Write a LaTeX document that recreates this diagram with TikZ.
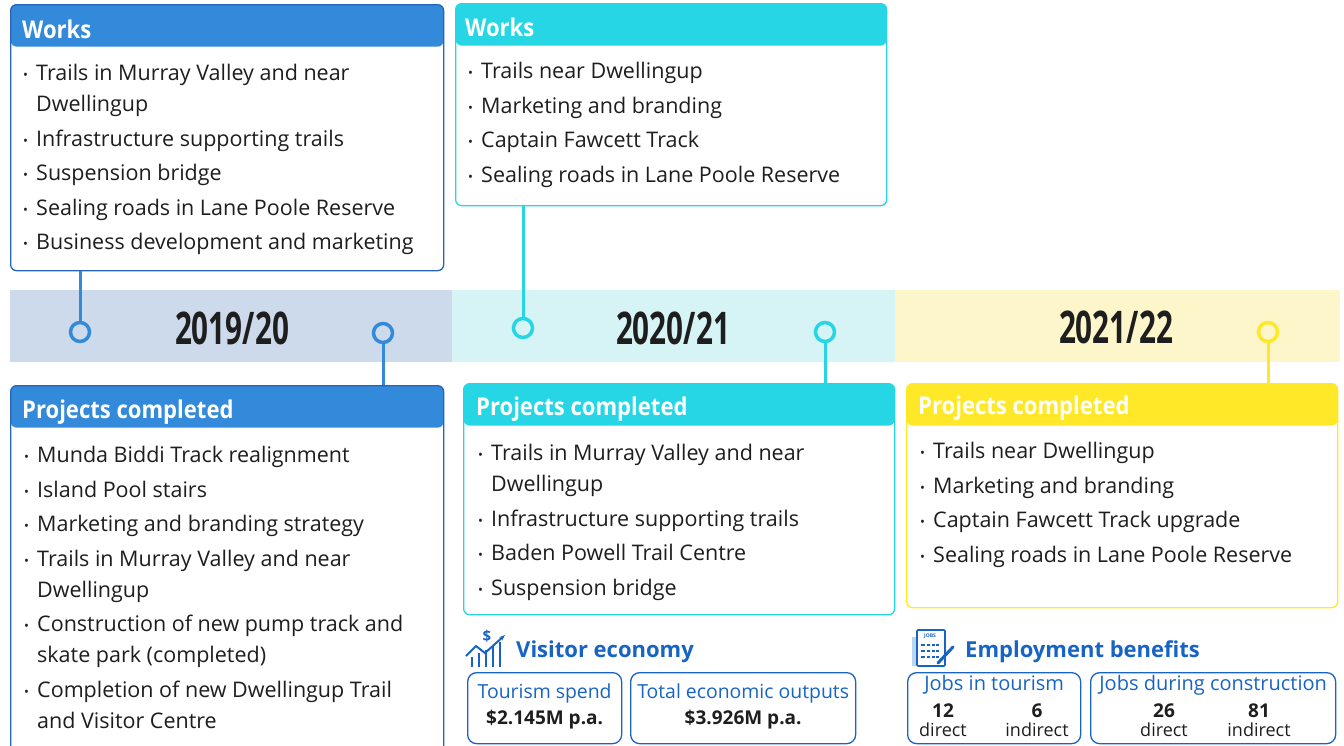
\documentclass[tikz,border=0pt]{standalone}
\usepackage{fontspec}
\setmainfont{Open Sans}
\newfontfamily\condfont[FakeStretch=0.9]{Open Sans}
\newfontfamily\yearfont[FakeStretch=0.66]{Open Sans}
\usetikzlibrary{arrows.meta, positioning}

\definecolor{wblue}{RGB}{52,138,218}
\definecolor{wblueD}{RGB}{38,100,188}
\definecolor{wcyan}{RGB}{38,214,228}
\definecolor{wyel}{RGB}{255,232,40}
\definecolor{bandB}{RGB}{204,218,236}
\definecolor{bandC}{RGB}{214,243,245}
\definecolor{bandY}{RGB}{252,246,202}
\definecolor{vblue}{RGB}{24,100,196}
\definecolor{txt}{RGB}{30,30,30}

\newcommand{\bul}{\makebox[13pt][l]{\raisebox{1pt}{\fontsize{13}{13}\selectfont •}}}
\newcommand{\ind}{\hspace*{13pt}}

\tikzset{
  panel/.style 2 args={draw=#1, line width=1.3pt, rounded corners=6pt, fill=white,
    inner sep=0pt, anchor=north west,
    path picture={\fill[#2] (path picture bounding box.north west)
      rectangle ([yshift=-42pt]path picture bounding box.north east);}},
  hdr/.style={anchor=west, inner sep=0pt, text=#1,
    font=\condfont\bfseries\fontsize{24.5}{24.5}\selectfont},
  body/.style={anchor=north west, inner sep=0pt, align=left, text=txt,
    font=\fontsize{21.5}{31}\selectfont},
  year/.style={inner sep=0pt, text=txt, font=\yearfont\bfseries\fontsize{45}{45}\selectfont},
  dot/.style={circle, draw=#1, line width=3.5pt, minimum size=19pt, inner sep=0pt},
  link/.style={draw=#1, line width=3pt},
  stat/.style={draw=vblue, line width=1.3pt, rounded corners=9pt, anchor=north west,
    inner sep=0pt},
  stitle/.style={inner sep=0pt, text=vblue, font=\fontsize{19.4}{19.4}\selectfont},
  sval/.style={inner sep=0pt, text=txt, font=\bfseries\fontsize{19}{19}\selectfont},
  snum/.style={inner sep=0pt, text=txt, font=\fontsize{18}{18}\selectfont},
  sbig/.style={inner sep=0pt, text=txt, font=\bfseries\fontsize{19}{19}\selectfont},
  sect/.style={anchor=west, inner sep=0pt, text=vblue,
    font=\bfseries\fontsize{22}{22}\selectfont}
}

\begin{document}
\begin{tikzpicture}[x=1pt, y=-1pt]
\useasboundingbox (0,0) rectangle (1344,745);

% year band
\fill[bandB] (10,290) rectangle (452,362);
\fill[bandC] (452,290) rectangle (895,362);
\fill[bandY] (895,290) rectangle (1340,362);
\node[year] (y1) at (232,328) {2019/20};
\node[year] (y2) at (673,328) {2020/21};
\node[year] (y3) at (1116,327) {2021/22};

\node[dot=wblue] (c1a) at (80,332) {};
\node[dot=wblue] (c1b) at (383,333) {};
\node[dot=wcyan] (c2a) at (523,328) {};
\node[dot=wcyan] (c2b) at (825,332) {};
\node[dot=wyel]  (c3a) at (1268,332) {};

% works panels
\node[panel={wblueD}{wblue}, minimum width=433pt, minimum height=266pt] (w1) at (10,4) {};
\node[hdr=white] at ([xshift=12pt,yshift=-25pt]w1.north west) {Works};
\node[body] at ([xshift=13pt,yshift=-60pt]w1.north west) {%
\bul Trails in Murray Valley and near\\
\ind Dwellingup\\[3.5pt]
\bul Infrastructure supporting trails\\[3.5pt]
\bul Suspension bridge\\[3.5pt]
\bul Sealing roads in Lane Poole Reserve\\[3.5pt]
\bul Business development and marketing};

\node[panel={wcyan}{wcyan}, minimum width=431pt, minimum height=202pt] (w2) at (455,3) {};
\node[hdr=white] at ([xshift=10pt,yshift=-24pt]w2.north west) {Works};
\node[body] at ([xshift=13pt,yshift=-59pt]w2.north west) {%
\bul Trails near Dwellingup\\[3.5pt]
\bul Marketing and branding\\[3.5pt]
\bul Captain Fawcett Track\\[3.5pt]
\bul Sealing roads in Lane Poole Reserve};

% projects panels
\node[panel={wblueD}{wblue}, minimum width=433pt, minimum height=370pt] (p1) at (10,385) {};
\node[hdr=white] at ([xshift=12pt,yshift=-27pt]p1.north west) {Projects completed};
\node[body] at ([xshift=14pt,yshift=-61pt]p1.north west) {%
\bul Munda Biddi Track realignment\\[3.5pt]
\bul Island Pool stairs\\[3.5pt]
\bul Marketing and branding strategy\\[3.5pt]
\bul Trails in Murray Valley and near\\
\ind Dwellingup\\[3.5pt]
\bul Construction of new pump track and\\
\ind skate park (completed)\\[3.5pt]
\bul Completion of new Dwellingup Trail\\
\ind and Visitor Centre};

\node[panel={wcyan}{wcyan}, minimum width=431pt, minimum height=231pt] (p2) at (463,383) {};
\node[hdr=white] at ([xshift=13pt,yshift=-26pt]p2.north west) {Projects completed};
\node[body] at ([xshift=15pt,yshift=-61pt]p2.north west) {%
\bul Trails in Murray Valley and near\\
\ind Dwellingup\\[3.5pt]
\bul Infrastructure supporting trails\\[3.5pt]
\bul Baden Powell Trail Centre\\[3.5pt]
\bul Suspension bridge};

\node[panel={wyel}{wyel}, minimum width=431pt, minimum height=224pt] (p3) at (906,383) {};
\node[hdr=white] at ([xshift=12pt,yshift=-25pt]p3.north west) {Projects completed};
\node[body] at ([xshift=14pt,yshift=-59pt]p3.north west) {%
\bul Trails near Dwellingup\\[3.5pt]
\bul Marketing and branding\\[3.5pt]
\bul Captain Fawcett Track upgrade\\[3.5pt]
\bul Sealing roads in Lane Poole Reserve};

% connectors
\draw[link=wblue] (w1.south -| c1a) -- (c1a);
\draw[link=wblue] (c1b) -- (p1.north -| c1b);
\draw[link=wcyan] (w2.south -| c2a) -- (c2a);
\draw[link=wcyan] (c2b) -- (p2.north -| c2b);
\draw[link=wyel]  (c3a) -- (p3.north -| c3a);

% visitor economy
\draw[vblue, line width=2pt]
  (472,667) -- (472,657) (479,667) -- (479,653) (486,667) -- (486,650)
  (493,667) -- (493,646) (500,667) -- (500,642);
\draw[vblue, line width=2pt, -{Stealth[length=6pt]}]
  (466,656) -- (476,646) -- (485,653) -- (505,635);
\node[inner sep=0pt, text=vblue, font=\bfseries\fontsize{15}{15}\selectfont] at (487,636) {\$};
\node[sect] (ve) at (516,652) {Visitor economy};

\node[stat, minimum width=154pt, minimum height=71pt] (ts) at (467,672) {};
\node[stitle] at ([yshift=15pt]ts.center) {Tourism spend};
\node[sval] at ([yshift=-11pt]ts.center) {\$2.145M p.a.};
\node[stat, minimum width=225pt, minimum height=71pt] (to) at (630,672) {};
\node[stitle] at ([yshift=15pt]to.center) {Total economic outputs};
\node[sval] at ([yshift=-11pt]to.center) {\$3.926M p.a.};

% employment benefits
\fill[wblue!35] (912,637) rectangle (922,666);
\draw[vblue, line width=1.6pt, fill=white, rounded corners=1pt] (917,630) rectangle (945,666);
\node[inner sep=0pt, text=vblue, font=\bfseries\fontsize{5}{5}\selectfont] at (930,636) {JOBS};
\foreach \r in {645,651,657} {
  \draw[vblue, line width=1.5pt] (921,\r) -- (925,\r);
  \draw[vblue, line width=1.5pt, dash pattern=on 3pt off 1.5pt] (927,\r) -- (939,\r);
}
\draw[vblue, line width=3pt, line cap=round] (938,663) -- (953,647);
\node[sect] (eb) at (965,652) {Employment benefits};

\node[stat, minimum width=173pt, minimum height=71pt] (jt) at (907,672) {};
\node[stitle, font=\fontsize{20}{20}\selectfont] at ([yshift=-13pt]jt.north) {Jobs in tourism};
\node[sbig] at (943,711) {12};
\node[snum] at (943,730) {direct};
\node[sbig] at (1037,711) {6};
\node[snum] at (1037,730) {indirect};
\node[stat, minimum width=245pt, minimum height=71pt] (jc) at (1090,672) {};
\node[stitle, font=\fontsize{20}{20}\selectfont] at ([yshift=-13pt]jc.north) {Jobs during construction};
\node[sbig] at (1164,711) {26};
\node[snum] at (1164,730) {direct};
\node[sbig] at (1259,711) {81};
\node[snum] at (1259,730) {indirect};
\end{tikzpicture}
\end{document}
